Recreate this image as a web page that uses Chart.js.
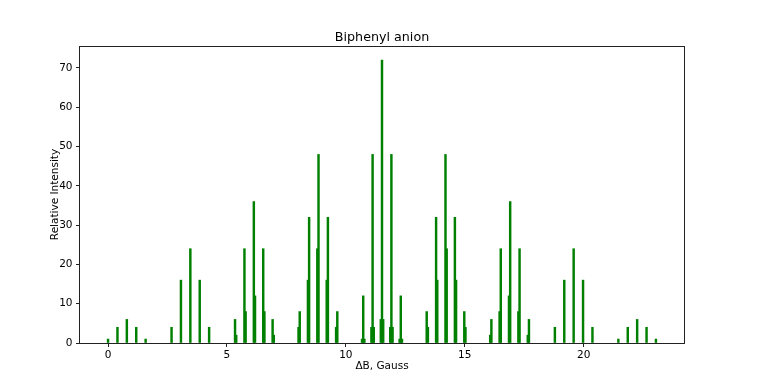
<!DOCTYPE html>
<html>
<head>
<meta charset="utf-8">
<script src="https://cdn.jsdelivr.net/npm/chart.js@4/dist/chart.umd.min.js"></script>
<style>
  html, body { margin: 0; padding: 0; background: #fff; }
  canvas { display: block; }
</style>
</head>
<body>
<canvas id="c" width="762" height="386"></canvas>
<script>
// Stick positions (ΔB, Gauss) and relative intensities
const fieldGauss = [
  0.00, 0.395, 0.79, 1.185, 1.58,
  2.67, 3.065, 3.46, 3.855, 4.25,
  5.34, 5.39, 5.735, 5.785, 6.13, 6.18, 6.525, 6.575, 6.92, 6.97,
  8.01, 8.06, 8.405, 8.455, 8.80, 8.85, 9.195, 9.245, 9.59, 9.64,
  10.68, 10.73, 10.78, 11.075, 11.125, 11.175, 11.47, 11.52, 11.57,
  11.865, 11.915, 11.965, 12.26, 12.31, 12.36,
  13.40, 13.45, 13.795, 13.845, 14.19, 14.24, 14.585, 14.635, 14.98, 15.03,
  16.07, 16.12, 16.465, 16.515, 16.86, 16.91, 17.255, 17.305, 17.65, 17.70,
  18.79, 19.185, 19.58, 19.975, 20.37,
  21.46, 21.855, 22.25, 22.645, 23.04
];
const intensity = [
  1, 4, 6, 4, 1,
  4, 16, 24, 16, 4,
  6, 2, 24, 8, 36, 12, 24, 8, 6, 2,
  4, 8, 16, 32, 24, 48, 16, 32, 4, 8,
  1, 12, 1, 4, 48, 4, 6, 72, 6,
  4, 48, 4, 1, 12, 1,
  8, 4, 32, 16, 48, 24, 32, 16, 8, 4,
  2, 6, 8, 24, 12, 36, 8, 24, 2, 6,
  4, 16, 24, 16, 4,
  1, 4, 6, 4, 1
];
const xTicks = [0, 5, 10, 15, 20];
const yTicks = [0, 10, 20, 30, 40, 50, 60, 70];
const chartTitle = 'Biphenyl anion';
const xLabel = 'ΔB, Gauss';
const yLabel = 'Relative Intensity';

const points = fieldGauss.map((x, i) => ({ x: x, y: intensity[i] }));

const FONT = 'DejaVu Sans';

const frame = {
  id: 'frame',
  afterDraw(chart) {
    const a = chart.chartArea;
    const ctx = chart.ctx;
    ctx.save();
    ctx.strokeStyle = '#222';
    ctx.lineWidth = 1;
    const L = Math.round(a.left), R = Math.round(a.right);
    const T = Math.round(a.top), B = Math.round(a.bottom);
    ctx.strokeRect(L - 0.5, T + 0.5, R - L + 1, B - T);
    ctx.restore();
  }
};

new Chart(document.getElementById('c'), {
  type: 'bar',
  data: {
    datasets: [{
      data: points,
      backgroundColor: '#008000',
      borderWidth: 0,
      barThickness: 1.8
    }]
  },
  options: {
    responsive: false,
    devicePixelRatio: 1,
    animation: false,
    layout: { padding: { left: 0, right: 78, top: 0, bottom: 0 } },
    plugins: {
      legend: { display: false },
      tooltip: { enabled: false },
      title: {
        display: true,
        text: chartTitle,
        fullSize: false,
        color: '#000',
        font: { family: FONT, size: 12.7, weight: 'normal', lineHeight: 1.2 },
        padding: { top: 30.4, bottom: 0.36 }
      }
    },
    scales: {
      x: {
        type: 'linear',
        offset: false,
        min: -1.18,
        max: 24.22,
        afterFit(scale) { scale.height = 43; },
        afterBuildTicks(scale) { scale.ticks = xTicks.map(v => ({ value: v })); },
        grid: { display: true, offset: false, drawOnChartArea: false, drawTicks: true, tickLength: 4, color: '#222' },
        border: { display: false },
        ticks: {
          color: '#000',
          padding: 2,
          maxRotation: 0,
          autoSkip: false,
          font: { family: FONT, size: 10.5 },
          callback: v => String(v)
        },
        title: {
          display: true,
          text: xLabel,
          color: '#000',
          font: { family: FONT, size: 10.5, lineHeight: 1.2 },
          padding: { top: 0, bottom: 13.7 }
        }
      },
      y: {
        type: 'linear',
        min: 0,
        max: 75.6,
        afterFit(scale) { scale.width = 80; },
        afterBuildTicks(scale) { scale.ticks = yTicks.map(v => ({ value: v })); },
        grid: { display: true, drawOnChartArea: false, drawTicks: true, tickLength: 4, color: '#222' },
        border: { display: false },
        ticks: {
          color: '#000',
          padding: 3.5,
          font: { family: FONT, size: 10.5 },
          callback: v => String(v)
        },
        title: {
          display: true,
          text: yLabel,
          color: '#000',
          font: { family: FONT, size: 10.5, lineHeight: 1.2 },
          padding: { top: 48.5, bottom: 0 }
        }
      }
    }
  },
  plugins: [frame]
});
</script>
</body>
</html>
